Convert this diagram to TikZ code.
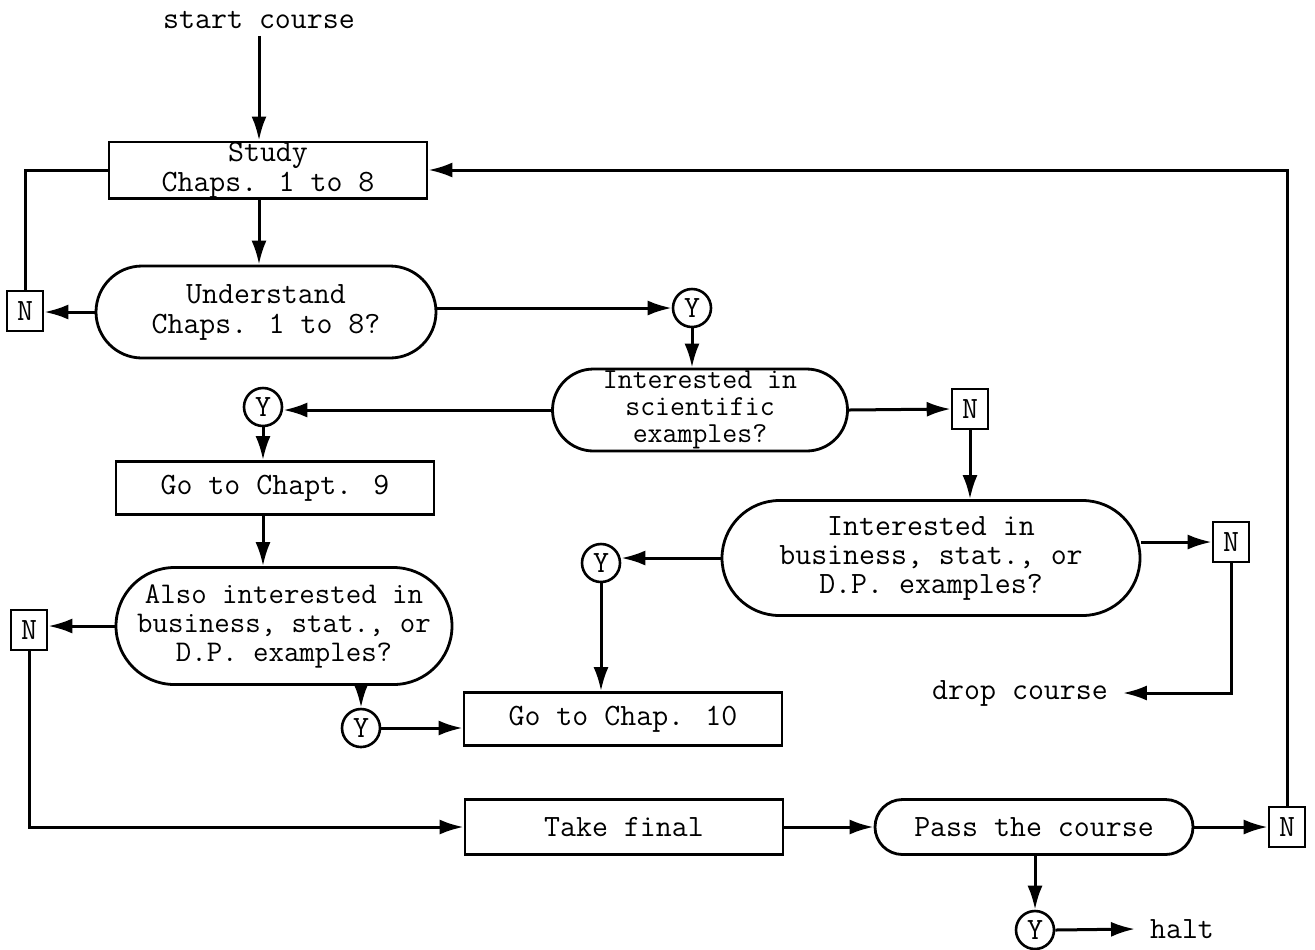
\documentclass[tikz,border=0pt]{standalone}
\usetikzlibrary{shapes.misc,arrows.meta}

\begin{document}
\begin{tikzpicture}[
    x=0.5pt, y=-0.5pt,
    font=\ttfamily\fontsize{15.5}{15}\selectfont,
    % --- Styles ---
    step box/.style={draw, line width=1.4pt, rectangle, align=center,
        inner sep=0pt, minimum width=159pt, minimum height=26.5pt},
    % Decision nodes with round ends
    ask node/.style={draw, line width=1.4pt, rounded rectangle, align=center,
        inner sep=0pt},
    no box/.style={draw, line width=1.3pt, rectangle, inner sep=0pt,
        minimum width=18pt, minimum height=20pt},
    yes node/.style={draw, line width=1.3pt, circle, inner sep=0pt,
        minimum size=19pt},
    flow line/.style={line width=1.5pt},
    flow arrow/.style={flow line, -{Latex[length=12pt,width=7.5pt]}}
]

%================CANVAS================
\useasboundingbox (0,0) rectangle (1315,949);

% --- Left column ---
\node (start) at (259,20) {start course};
\node[step box] (study) at (268,170) {Study\\Chaps. 1 to 8};
\node[ask node, minimum width=170pt, minimum height=46pt] (und) at (266,312)
    {Understand\\Chaps. 1 to 8?};
\node[no box] (n1) at (25,311) {N};

% --- Scientific branch ---
\node[yes node] (y1) at (692,308) {Y};
\node[ask node, minimum width=147.5pt, minimum height=41pt,
      font=\ttfamily\fontsize{14.5}{13.5}\selectfont] (sci) at (700,410)
    {Interested in\\scientific\\examples?};
\node[yes node] (y2) at (263,407) {Y};
\node[no box] (n2) at (970,409) {N};
\node[step box] (ch9) at (275,488) {Go to Chapt. 9};
\node[ask node, minimum width=168pt, minimum height=58.5pt,
      font=\ttfamily\fontsize{15}{14.5}\selectfont] (also) at (284,626)
    {Also interested in\\business, stat., or\\D.P. examples?};
\node[no box] (n4) at (29,630) {N};
\node[yes node] (y4) at (361,728) {Y};

% --- Business branch ---
\node[ask node, minimum width=209pt, minimum height=57.5pt,
      font=\ttfamily\fontsize{15.5}{14.5}\selectfont] (busi) at (931,558)
    {Interested in\\business, stat., or\\D.P. examples?};
\node[yes node] (y3) at (601,563) {Y};
\node[no box] (n3) at (1231,542) {N};
\node (drop) at (1020,693) {drop course};
\node[step box] (ch10) at (623,719) {Go to Chap. 10};

% --- Final row ---
\node[step box, minimum height=27.5pt] (final) at (624,827) {Take final};
\node[ask node, minimum width=159pt, minimum height=27.5pt] (pass) at (1034,827)
    {Pass the course};
\node[no box] (n5) at (1287,827) {N};
\node[yes node] (y5) at (1035,930) {Y};
\node (halt) at (1182,929) {halt};

% --- Connectors ---
\draw[flow arrow] (start.south) -- (start.south |- study.north);
\draw[flow arrow] (study.south -| start) -- (und.north -| start);
\draw[flow arrow] (und.west) -- (und.west -| n1.east);
\draw[flow line] (n1.north) |- (study.west);
\draw[flow arrow] (und.east |- y1) -- (y1.west);
\draw[flow arrow] (y1.south) -- (sci.north -| y1);
\draw[flow arrow] (sci.west) -- (sci.west -| y2.east);
\draw[flow arrow] (sci.east) -- (n2.west);
\draw[flow arrow] (n2.south) -- (n2.south |- busi.north);
\draw[flow arrow] (busi.west) -- (busi.west -| y3.east);
\draw[flow arrow] (y3.south) -- (y3.south |- ch10.north);
\draw[flow arrow] (busi.east |- n3) -- (n3.west);
\draw[flow arrow] (n3.south) |- ([xshift=4pt]drop.east);
\draw[flow arrow] (y2.south) -- (ch9.north -| y2);
\draw[flow arrow] (ch9.south -| y2) -- (also.north -| y2);
\draw[flow arrow] (also.west) -- (also.west -| n4.east);
\draw[flow arrow] (y4.north |- also.south) -- (y4.north);
\draw[flow arrow] (y4.east) -- (y4.east -| ch10.west);
\draw[flow arrow] (n4.south) |- (final.west);
\draw[flow arrow] (final.east) -- (pass.west);
\draw[flow arrow] (pass.east) -- (n5.west);
\draw[flow arrow] (n5.north) |- (study.east);
\draw[flow arrow] (pass.south -| y5) -- (y5.north);
\draw[flow arrow] (y5.east) -- ([xshift=-4pt]halt.west);

\end{tikzpicture}
\end{document}
